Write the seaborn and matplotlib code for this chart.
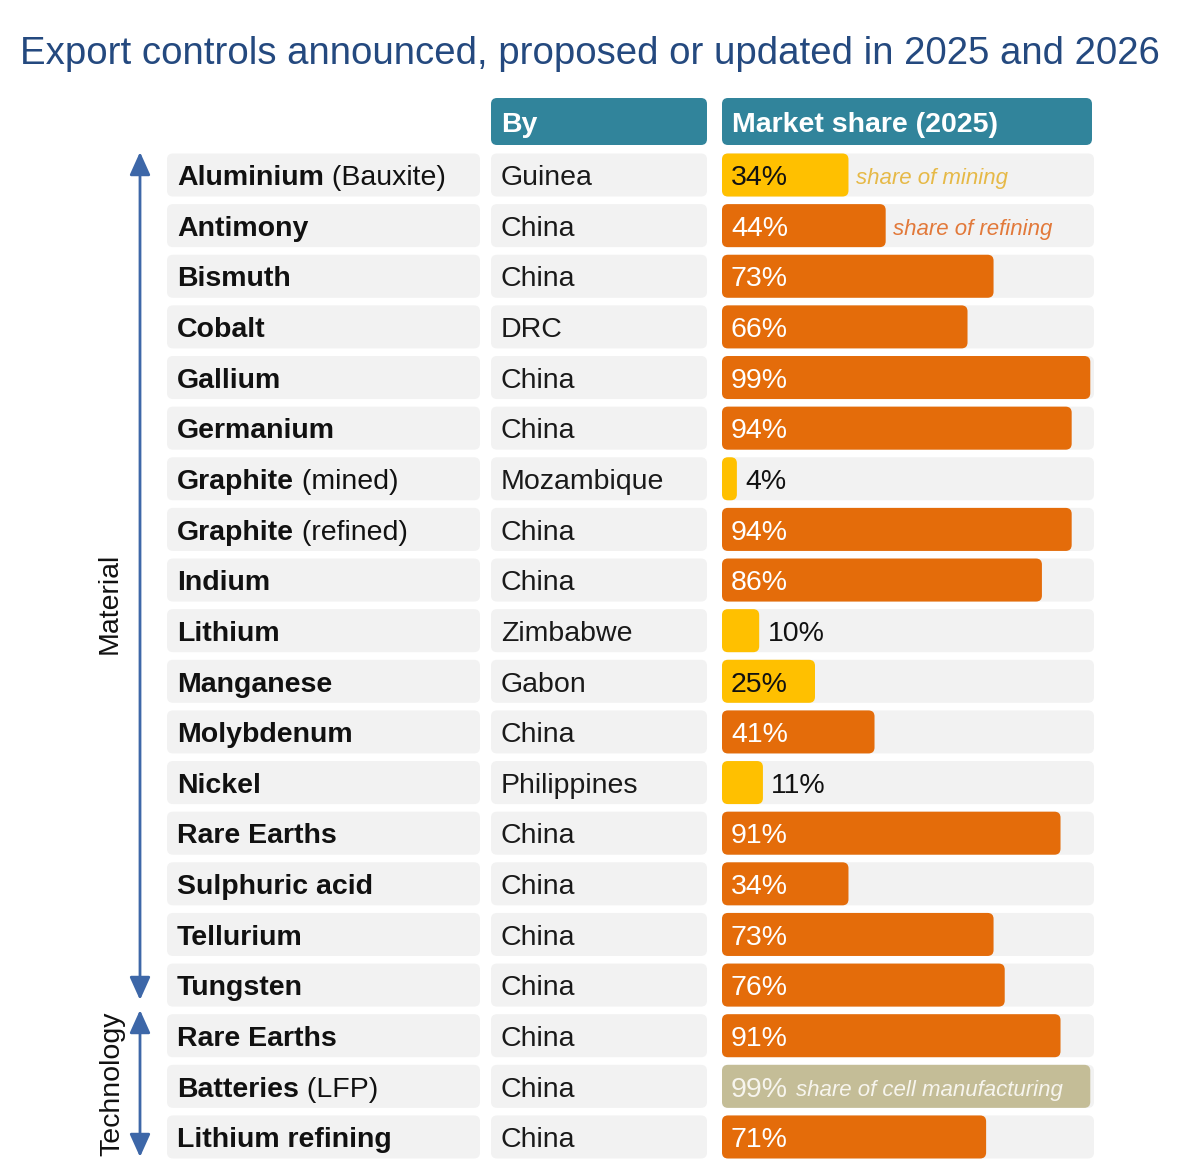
import numpy as np
import pandas as pd
import matplotlib
matplotlib.use("Agg")
import matplotlib.pyplot as plt
import seaborn as sns
from matplotlib.patches import FancyBboxPatch

# ---------------- data ----------------
materials = ["Aluminium", "Antimony", "Bismuth", "Cobalt", "Gallium", "Germanium",
             "Graphite", "Graphite", "Indium", "Lithium", "Manganese", "Molybdenum",
             "Nickel", "Rare Earths", "Sulphuric acid", "Tellurium", "Tungsten",
             "Rare Earths", "Batteries", "Lithium refining"]
qualifiers = ["(Bauxite)", "", "", "", "", "", "(mined)", "(refined)", "", "", "", "",
              "", "", "", "", "", "", "(LFP)", ""]
countries = ["Guinea", "China", "China", "DRC", "China", "China", "Mozambique", "China",
             "China", "Zimbabwe", "Gabon", "China", "Philippines", "China", "China",
             "China", "China", "China", "China", "China"]
shares = [34, 44, 73, 66, 99, 94, 4, 94, 86, 10, 25, 41, 11, 91, 34, 73, 76, 91, 99, 71]
stages = ["mining", "refining", "refining", "refining", "refining", "refining",
          "mining", "refining", "refining", "mining", "mining", "refining",
          "mining", "refining", "refining", "refining", "refining", "refining",
          "cell", "refining"]
groups = ["Material"] * 17 + ["Technology"] * 3
notes = {0: "share of mining", 1: "share of refining", 18: "share of cell manufacturing"}

title = "Export controls announced, proposed or updated in 2025 and 2026"
header_by = "By"
header_share = "Market share (2025)"

palette = {"mining": "#FFC000", "refining": "#E46C0A", "cell": "#C4BD97"}
note_colors = {"mining": "#E6B947", "refining": "#E2793A", "cell": "#F7F5EE"}
value_colors = {"mining": "#111111", "refining": "#FFFFFF", "cell": "#F7F5EE"}

# ---------------- layout helpers ----------------
W, H = 1200, 1166
PX = 3.72      # pixels per percentage point
ROW = 50.63    # pixels per row
X0, Y0 = 722, 175

def X(px):
    return (px - X0) / PX

def Y(py):
    return (py - Y0) / ROW

sns.set_theme(style="white")
plt.rcParams['font.family'] = ['Liberation Sans', 'DejaVu Sans']

fig = plt.figure(figsize=(W / 100, H / 100), dpi=100)
ax = fig.add_axes([0, 0, 1, 1])

df = pd.DataFrame({"row": list(range(len(materials))), "share": shares,
                   "stage": stages, "full": [100] * len(materials)})

BAR_H = 0.85
sns.barplot(data=df, x="full", y="row", orient="y", color="#F2F2F2", saturation=1,
            width=BAR_H, errorbar=None, ax=ax)
sns.barplot(data=df, x="share", y="row", orient="y", hue="stage", palette=palette,
            saturation=1, dodge=False, width=BAR_H, errorbar=None, legend=False, ax=ax)

ax.set_xlim(X(0), X(W))
ax.set_ylim(Y(H), Y(0))
ax.axis("off")

aspect = PX / ROW
rr = 6 / PX
for p in list(ax.patches):
    x, y, w, h = p.get_x(), p.get_y(), p.get_width(), p.get_height()
    fc = p.get_facecolor()
    p.remove()
    ax.add_patch(FancyBboxPatch((x, y), w, h, boxstyle=f"round,pad=0,rounding_size={rr}",
                                mutation_aspect=aspect, fc=fc, ec="none", zorder=2))

# column backgrounds for label and By columns
for i in range(len(materials)):
    for (a, b) in [(167, 480), (491, 707)]:
        ax.add_patch(FancyBboxPatch((X(a), i - BAR_H / 2), X(b) - X(a), BAR_H,
                                    boxstyle=f"round,pad=0,rounding_size={rr}",
                                    mutation_aspect=aspect, fc="#F2F2F2", ec="none", zorder=1))

# headers
for (a, b, txt) in [(491, 707, header_by), (722, 1092, header_share)]:
    ax.add_patch(FancyBboxPatch((X(a), Y(98)), X(b) - X(a), Y(145) - Y(98),
                                boxstyle=f"round,pad=0,rounding_size={rr}",
                                mutation_aspect=aspect, fc="#31849B", ec="none", zorder=1))
    ax.text(X(a + 10), Y(122), txt, color="white", fontweight="bold", fontsize=20.5,
            ha="left", va="center_baseline", zorder=3)

# title
ax.text(X(590), Y(54), title, color="#24497F", fontsize=27.6, ha="center", va="center")

FS = 20.5
base = 10.2 / ROW
for i in range(len(materials)):
    t = ax.text(X(177), i + base, materials[i], fontweight="bold", fontsize=FS,
                color="#111111", ha="left", va="baseline", zorder=3)
    if qualifiers[i]:
        ax.annotate(" " + qualifiers[i], xy=(1, 0), xycoords=t, fontsize=FS,
                    color="#111111", ha="left", va="bottom", zorder=3)
    ax.text(X(501), i + base, countries[i], fontsize=FS, color="#1A1A1A",
            ha="left", va="baseline", zorder=3)
    s = shares[i]
    st = stages[i]
    if s < 20:
        vt = ax.text(s + 2.2, i + base, f"{s}%", fontsize=FS, color="#111111",
                     ha="left", va="baseline", zorder=3)
    else:
        vt = ax.text(X(731), i + base, f"{s}%", fontsize=FS, color=value_colors[st],
                     ha="left", va="baseline", zorder=3)
    if i in notes:
        if st == "cell":
            ax.annotate(notes[i], xy=(1, 0), xycoords=vt, xytext=(6, 1),
                        textcoords="offset points", fontsize=16, style="italic",
                        color=note_colors[st], ha="left", va="bottom", zorder=3)
        else:
            ax.text(s + 2.0, i + base - 1 / ROW, notes[i], fontsize=16, style="italic",
                    color=note_colors[st], ha="left", va="baseline", zorder=3)

# group arrows
arrow_kw = dict(arrowstyle="<|-|>,head_length=1.0,head_width=0.45", color="#3D67A8",
                lw=2.0, shrinkA=0, shrinkB=0, mutation_scale=14)
ax.annotate("", xy=(X(140), Y(152)), xytext=(X(140), Y(1000)), arrowprops=arrow_kw)
ax.annotate("", xy=(X(140), Y(1010)), xytext=(X(140), Y(1157)), arrowprops=arrow_kw)
ax.text(X(110), Y(603), "Material", rotation=90, fontsize=FS, color="#111111",
        ha="center", va="center")
ax.text(X(112), Y(1084), "Technology", rotation=90, fontsize=FS, color="#111111",
        ha="center", va="center")

fig.savefig("out.png", dpi=100, facecolor="white")
